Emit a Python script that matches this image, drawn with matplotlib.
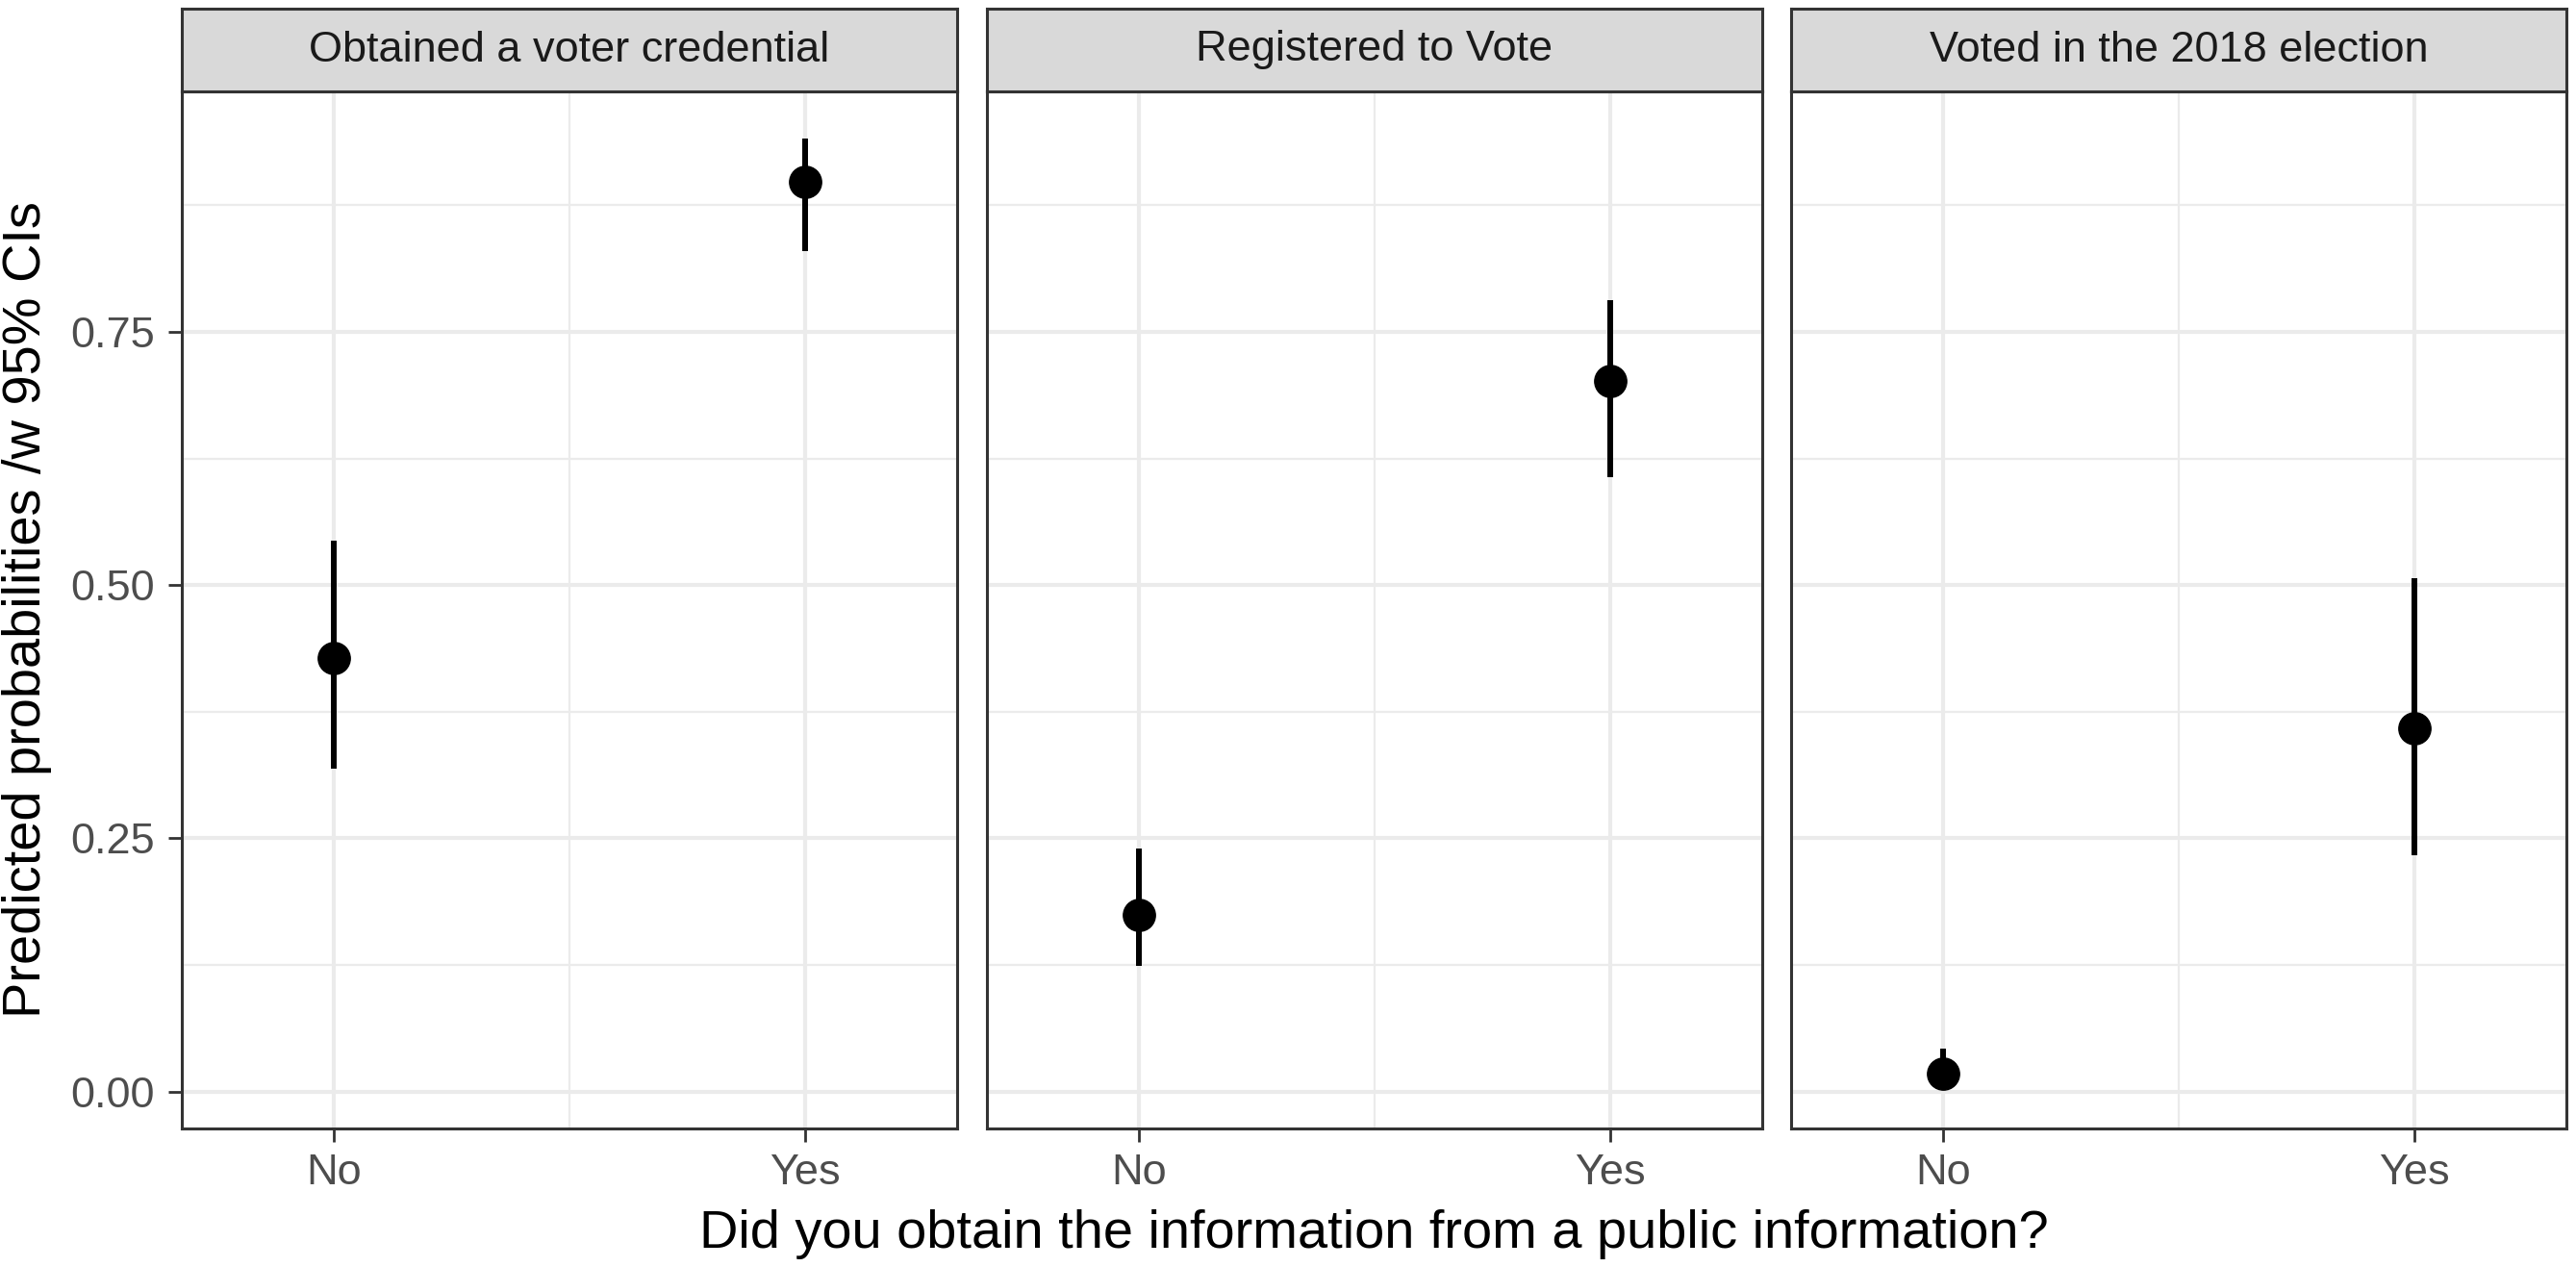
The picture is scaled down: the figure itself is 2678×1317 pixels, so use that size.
import matplotlib
matplotlib.use("Agg")
import matplotlib.pyplot as plt
import numpy as np

# ---- data ----
facets = ["Obtained a voter credential", "Registered to Vote", "Voted in the 2018 election"]
categories = ["No", "Yes"]
credential_est = [0.428, 0.898]
credential_lo = [0.319, 0.830]
credential_hi = [0.544, 0.941]
register_est = [0.174, 0.702]
register_lo = [0.124, 0.607]
register_hi = [0.240, 0.781]
voted_est = [0.018, 0.359]
voted_lo = [0.010, 0.233]
voted_hi = [0.042, 0.507]
y_ticks = [0.00, 0.25, 0.50, 0.75]
y_ticklabels = ["0.00", "0.25", "0.50", "0.75"]
x_title = "Did you obtain the information from a public information?"
y_title = "Predicted probabilities /w 95% CIs"

series = [
    (credential_est, credential_lo, credential_hi),
    (register_est, register_lo, register_hi),
    (voted_est, voted_lo, voted_hi),
]

plt.rcParams['font.family'] = ['Liberation Sans', 'DejaVu Sans']

W, H = 2678, 1317
fig = plt.figure(figsize=(W / 100, H / 100), dpi=100)

# y range with ggplot-like 5% expansion
all_lo = min(min(s[1]) for s in series)
all_hi = max(max(s[2]) for s in series)
rng = all_hi - all_lo
ylim = (all_lo - 0.05 * rng, all_hi + 0.05 * rng)
xlim = (1 - 0.322, 2 + 0.322)

panel_lefts = [189, 1026, 1862]
panel_w = 806
panel_top = 95
panel_bottom = 1173
strip_top = 9

border_col = "#333333"
grid_col = "#EBEBEB"

for i, (name, (est, lo, hi)) in enumerate(zip(facets, series)):
    left = panel_lefts[i] / W
    bottom = (H - panel_bottom) / H
    height = (panel_bottom - panel_top) / H
    ax = fig.add_axes([left, bottom, panel_w / W, height])
    x = np.arange(1, len(categories) + 1)
    ax.set_xlim(*xlim)
    ax.set_ylim(*ylim)
    # gridlines
    for yv in [0.125, 0.375, 0.625, 0.875]:
        ax.axhline(yv, color=grid_col, lw=1.6, zorder=0)
    for yv in y_ticks:
        ax.axhline(yv, color=grid_col, lw=3.0, zorder=0)
    ax.axvline(1.5, color=grid_col, lw=1.6, zorder=0)
    for xv in x:
        ax.axvline(xv, color=grid_col, lw=3.0, zorder=0)
    ax.vlines(x, lo, hi, color="black", lw=4.3, zorder=2)
    ax.plot(x, est, 'o', color="black", markersize=24, zorder=3)
    ax.set_xticks(x)
    ax.set_xticklabels(categories)
    ax.tick_params(axis='x', length=10, width=2.0, color=border_col,
                   labelsize=32.5, labelcolor="#4D4D4D", pad=9)
    if i == 0:
        ax.set_yticks(y_ticks)
        ax.set_yticklabels(y_ticklabels)
        ax.tick_params(axis='y', length=10, width=2.0, color=border_col,
                       labelsize=32.5, labelcolor="#4D4D4D", pad=10)
    else:
        ax.set_yticks([])
    for sp in ax.spines.values():
        sp.set_color(border_col)
        sp.set_linewidth(2.2)
        sp.set_zorder(5)
    # strip
    sax = fig.add_axes([left, (H - panel_top) / H, panel_w / W, (panel_top - strip_top) / H])
    sax.set_facecolor("#D9D9D9")
    sax.set_xticks([])
    sax.set_yticks([])
    for sp in sax.spines.values():
        sp.set_color(border_col)
        sp.set_linewidth(2.2)
    sax.text(0.5, 0.5, name, transform=sax.transAxes, ha='center', va='center',
             fontsize=32.5, color="#1A1A1A")

fig.text((panel_lefts[0] + panel_lefts[2] + panel_w) / 2 / W, (H - 1297) / H, x_title,
         ha='center', va='baseline', fontsize=40.3, color="black")
fig.text(28 / W, (H - (panel_top + panel_bottom) / 2) / H, y_title, rotation=90,
         ha='center', va='center', fontsize=40.3, color="black")

fig.savefig("out.png", dpi=100, facecolor="white")
